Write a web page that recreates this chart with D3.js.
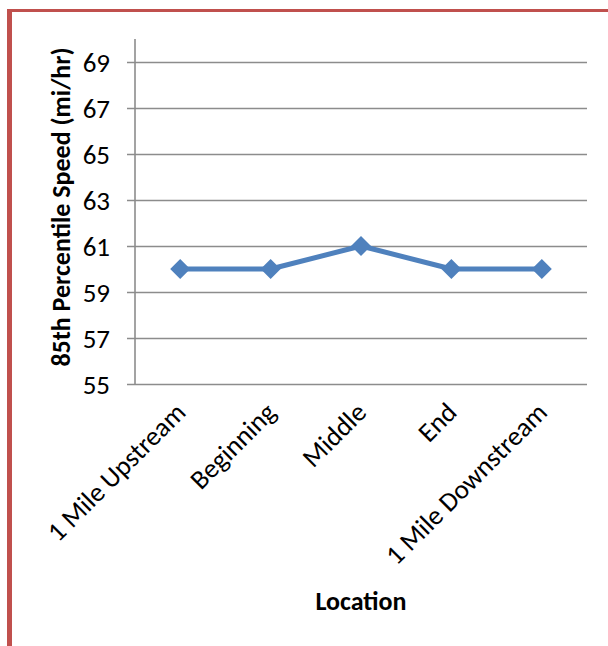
<!DOCTYPE html>
<html>
<head>
<meta charset="utf-8">
<script src="https://cdn.jsdelivr.net/npm/d3@7"></script>
<style>
  html, body { margin: 0; padding: 0; background: #fff; }
  svg { display: block; }
  text { font-family: Carlito, Lato, "Open Sans", sans-serif; fill: #000; }
</style>
</head>
<body>
<svg id="chart" width="608" height="646"></svg>
<script>
// Locations along the corridor and the 85th percentile speed at each
const locations = ["1 Mile Upstream", "Beginning", "Middle", "End", "1 Mile Downstream"];
const speeds = [60, 60, 61, 60, 60];
const yTicks = [55, 57, 59, 61, 63, 65, 67, 69];
const yTitle = "85th Percentile Speed (mi/hr)";
const xTitle = "Location";

const svg = d3.select("#chart");
const W = 608, H = 646;
const plot = { left: 135, right: 587, top: 39, bottom: 384 };
const fontFamily = "Carlito, Lato, 'Open Sans', sans-serif";
const fs = 26;

// frame border on the top and left
svg.append("rect").attr("x", 7).attr("y", 9).attr("width", W - 7).attr("height", 3).attr("fill", "#C0504D");
svg.append("rect").attr("x", 7).attr("y", 9).attr("width", 5).attr("height", H - 9).attr("fill", "#C0504D");

const x = d3.scaleBand().domain(locations).range([plot.left, plot.right]);
const y = d3.scaleLinear().domain([55, 70]).range([plot.bottom, plot.top]);

const gridColor = "#8c8c8c";

// horizontal gridlines with outside tick marks
const yAxis = d3.axisLeft(y).tickValues(yTicks).tickSize(-(plot.right - plot.left)).tickSizeOuter(0).tickPadding(25);
const gy = svg.append("g").attr("transform", `translate(${plot.left},0)`).call(yAxis);
gy.select(".domain").remove();
gy.selectAll(".tick line").attr("x1", -8).attr("stroke", gridColor).attr("stroke-width", 1.6);
gy.selectAll(".tick text").attr("font-size", fs + 1).attr("font-family", fontFamily).attr("dy", "0.36em");

// value axis line
svg.append("line").attr("x1", plot.left).attr("x2", plot.left)
  .attr("y1", plot.top).attr("y2", plot.bottom)
  .attr("stroke", gridColor).attr("stroke-width", 1.6);

// category axis labels, rotated
const gx = svg.append("g").attr("transform", `translate(0,${plot.bottom})`)
  .call(d3.axisBottom(x).tickSize(0).tickPadding(0));
gx.select(".domain").remove();
gx.selectAll(".tick text")
  .attr("font-size", fs + 1)
  .attr("font-family", fontFamily)
  .attr("text-anchor", "end")
  .attr("y", 0).attr("dy", 0)
  .attr("transform", "translate(7,30) rotate(-45)");

// series line and diamond markers
const line = d3.line().x((d, i) => x(locations[i]) + x.bandwidth() / 2).y(d => y(d));
svg.append("path").datum(speeds).attr("d", line)
  .attr("fill", "none").attr("stroke", "#4F81BD").attr("stroke-width", 5).attr("stroke-linejoin", "round");

svg.selectAll(".marker").data(speeds).join("path")
  .attr("class", "marker")
  .attr("d", "M0,-10L10,0L0,10L-10,0Z")
  .attr("transform", (d, i) => `translate(${x(locations[i]) + x.bandwidth() / 2},${y(d)})`)
  .attr("fill", "#4F81BD");

// axis titles
svg.append("text").attr("transform", `translate(70,207) rotate(-90)`)
  .attr("text-anchor", "middle").attr("font-size", fs).attr("font-weight", "bold").text(yTitle);
svg.append("text").attr("x", 361).attr("y", 610)
  .attr("text-anchor", "middle").attr("font-size", fs).attr("font-weight", "bold").text(xTitle);
</script>
</body>
</html>
